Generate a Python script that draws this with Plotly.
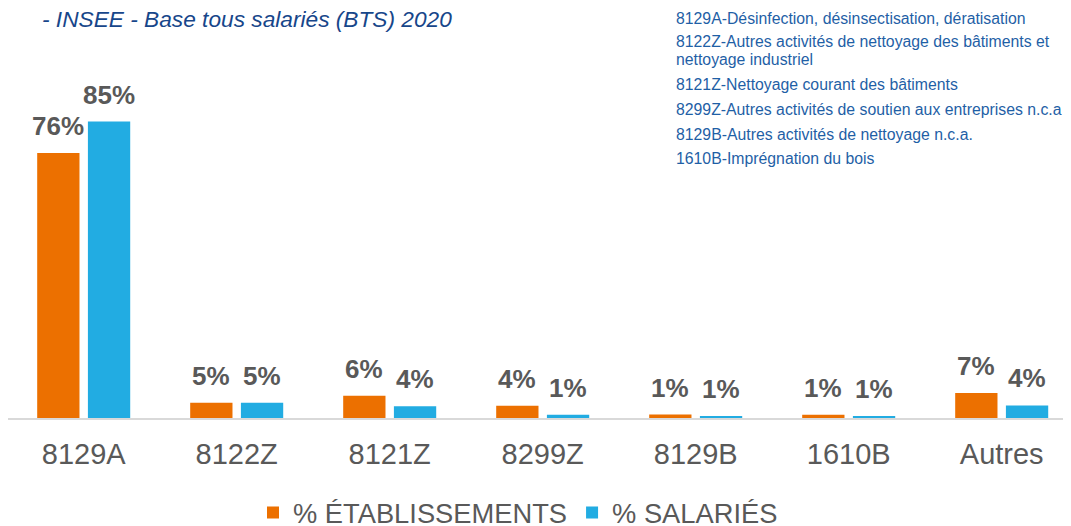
import plotly.graph_objects as go

categories = ["8129A", "8122Z", "8121Z", "8299Z", "8129B", "1610B", "Autres"]
etab_values = [76.0, 4.4, 6.4, 3.5, 1.0, 0.9, 7.2]
sal_values = [85.0, 4.4, 3.4, 0.95, 0.5, 0.5, 3.6]
etab_labels = ["76%", "5%", "6%", "4%", "1%", "1%", "7%"]
sal_labels = ["85%", "5%", "4%", "1%", "1%", "1%", "4%"]
series_names = ["% ÉTABLISSEMENTS", "% SALARIÉS"]
title_text = "- INSEE - Base tous salariés (BTS) 2020"
description_lines = [
    "8129A-Désinfection, désinsectisation, dératisation",
    "8122Z-Autres activités de nettoyage des bâtiments et",
    "nettoyage industriel",
    "8121Z-Nettoyage courant des bâtiments",
    "8299Z-Autres activités de soutien aux entreprises n.c.a",
    "8129B-Autres activités de nettoyage n.c.a.",
    "1610B-Imprégnation du bois",
]

ORANGE = "#EC7000"
BLUE = "#22ACE2"
GREY = "#595959"
NAVY = "#17468A"
DESC = "#1F5FA6"
FONT = "Liberation Sans, Arial, sans-serif"

# the page body adds an 8px offset; layout positions below are in page pixels
OFF = 8
W, H = 1071 - OFF, 560
BASE_PAGE = 418.3
ML, MT = 0, 0
PH = BASE_PAGE - OFF - MT
MB = H - MT - PH
PW = W - ML
CAT_PX = 153.0
FIRST_CENTER_PAGE = 83.7
PX_PER_UNIT = 3.49


def px_x(page_x):
    return (page_x - OFF - ML) / PW


def px_y(page_y):
    return 1 - (page_y - OFF - MT) / PH


fig = go.Figure()
fig.add_trace(go.Bar(x=categories, y=etab_values, name=series_names[0],
                     marker=dict(color=ORANGE, line=dict(width=0))))
fig.add_trace(go.Bar(x=categories, y=sal_values, name=series_names[1],
                     marker=dict(color=BLUE, line=dict(width=0))))

annotations = []
slot = CAT_PX * (1 - 0.337) / 2
for cat, v, lab in zip(categories, etab_values, etab_labels):
    annotations.append(dict(x=cat, y=v, text=f"<b>{lab}</b>", showarrow=False,
                            xshift=-slot / 2, yshift=10, yanchor="bottom",
                            font=dict(size=26, color=GREY, family=FONT)))
for cat, v, lab in zip(categories, sal_values, sal_labels):
    annotations.append(dict(x=cat, y=v, text=f"<b>{lab}</b>", showarrow=False,
                            xshift=slot / 2, yshift=10, yanchor="bottom",
                            font=dict(size=26, color=GREY, family=FONT)))

annotations.append(dict(xref="paper", yref="paper", x=px_x(41), y=px_y(19.5),
                        xanchor="left", yanchor="middle", showarrow=False,
                        borderpad=0,
                        text=f"<i>{title_text}</i>",
                        font=dict(size=22.7, color=NAVY, family=FONT)))

desc_centers = [18.7, 41.7, 60, 85, 110, 135, 159]
for d, yc in zip(description_lines, desc_centers):
    annotations.append(dict(xref="paper", yref="paper", x=px_x(675), y=px_y(yc),
                            xanchor="left", yanchor="middle", align="left",
                            showarrow=False, text=d, borderpad=0,
                            font=dict(size=15.8, color=DESC, family=FONT)))

r0 = -(FIRST_CENTER_PAGE - OFF - ML) / CAT_PX

fig.update_layout(
    width=W, height=H,
    margin=dict(l=ML, r=0, t=MT, b=MB, pad=0, autoexpand=False),
    paper_bgcolor="white", plot_bgcolor="white",
    barmode="group", bargap=0.337, bargroupgap=0.166,
    showlegend=True,
    legend=dict(orientation="h", x=px_x(518), xanchor="center", y=px_y(513),
                yanchor="middle", font=dict(size=27.3, color=GREY, family=FONT),
                itemwidth=30, traceorder="normal"),
    annotations=annotations,
    font=dict(family=FONT),
)
fig.update_xaxes(range=[r0, r0 + PW / CAT_PX], showline=True,
                 linecolor="#D9D9D9", linewidth=2, ticks="",
                 ticklabelstandoff=9, automargin=False,
                 tickfont=dict(size=29, color=GREY, family=FONT),
                 showgrid=False, zeroline=False, fixedrange=True)
fig.update_yaxes(range=[0, PH / PX_PER_UNIT], visible=False, showgrid=False,
                 zeroline=False, fixedrange=True, automargin=False)

fig.write_html("out.html")
